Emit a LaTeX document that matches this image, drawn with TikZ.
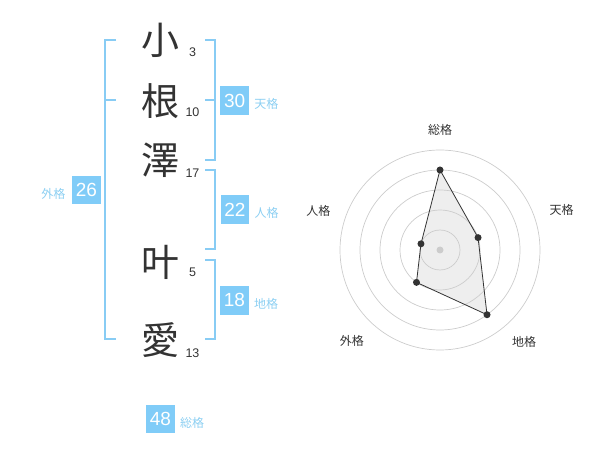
\documentclass[tikz,border=0pt]{standalone}
\usepackage{fontspec}
\setmainfont{Liberation Sans}
\newfontfamily\jpfont{Noto Sans CJK JP}
\usetikzlibrary{positioning}
\definecolor{kbox}{HTML}{80CCF8}
\definecolor{kline}{HTML}{88CCF4}
\definecolor{klabel}{HTML}{8CCFF2}
\definecolor{ink}{HTML}{333333}
\definecolor{ring}{HTML}{CCCCCC}
\definecolor{area}{HTML}{EEEEEE}
\tikzset{
  kanji/.style={font=\jpfont\fontsize{38}{38}\selectfont, text=ink, inner sep=0pt},
  strokes/.style={font=\fontsize{12.5}{12.5}\selectfont, text=ink, inner sep=0pt},
  score/.style={fill=kbox, text=white, minimum size=28.5pt, inner sep=0pt, font=\fontsize{19}{19}\selectfont},
  kaku/.style={font=\jpfont\fontsize{12}{12}\selectfont, text=klabel, inner sep=0pt},
  bracket/.style={draw=kline, line width=2pt},
  axislabel/.style={font=\jpfont\fontsize{12}{12}\selectfont, text=ink, inner sep=0pt},
  dot/.style={circle, fill=ink, minimum size=7pt, inner sep=0pt}
}
\begin{document}
\begin{tikzpicture}[x=1pt, y=-1pt]
  \useasboundingbox (0,0) rectangle (600,470);
  % name
  \node[kanji] (k1) at (160,40) {小};
  \node[kanji] (k2) at (160,101.5) {根};
  \node[kanji] (k3) at (160,160) {澤};
  \node[kanji] (k4) at (160,262.5) {叶};
  \node[kanji] (k5) at (160,340.5) {愛};
  \node[strokes] (n1) at (192.5,52.3) {3};
  \node[strokes] (n2) at (192.5,112.7) {10};
  \node[strokes] (n3) at (192.5,173.3) {17};
  \node[strokes] (n4) at (192.5,272.3) {5};
  \node[strokes] (n5) at (192.5,352.7) {13};
  % brackets
  \draw[bracket] (116,40) -- (105,40) -- (105,339) -- (116,339);
  \draw[bracket] (105,100) -- (116,100);
  \draw[bracket] (205,40) -- (214.5,40) -- (214.5,160) -- (205,160);
  \draw[bracket] (214.5,100) -- (205,100);
  \draw[bracket] (205,170.5) -- (214.5,170.5) -- (214.5,249.3) -- (205,249.3);
  \draw[bracket] (205,260) -- (214.5,260) -- (214.5,339) -- (205,339);
  % scores
  \node[score] (ten) at (234.7,100.5) {30};
  \node[kaku, right=5pt of ten, yshift=-3.5pt] (tenl) {天格};
  \node[score] (jin) at (235,209.5) {22};
  \node[kaku, right=5pt of jin, yshift=-3.5pt] (jinl) {人格};
  \node[score] (chi) at (234.5,300.3) {18};
  \node[kaku, right=5pt of chi, yshift=-3.5pt] (chil) {地格};
  \node[score] (gai) at (86.5,190) {26};
  \node[kaku, left=6.5pt of gai, yshift=-3.5pt] (gail) {外格};
  \node[score] (sou) at (160.5,419) {48};
  \node[kaku, right=5pt of sou, yshift=-3.5pt] (soul) {総格};
  % radar
  \begin{scope}[shift={(440,250)}, yscale=-1]
    \coordinate (c) at (0,0);
    \coordinate (r1) at (90:80);
    \coordinate (r2) at (18:40);
    \coordinate (r3) at (-54:80);
    \coordinate (r4) at (-126:40);
    \coordinate (r5) at (162:20);
    \fill[area] (r1) -- (r2) -- (r3) -- (r4) -- (r5) -- cycle;
    \foreach \r in {20,40,...,100}
      \draw[ring, line width=0.7pt] (c) circle (\r);
    \fill[ring] (c) circle (3.5);
    \draw[ink, line width=0.8pt] (r1) -- (r2) -- (r3) -- (r4) -- (r5) -- cycle;
    \foreach \p in {r1,r2,r3,r4,r5}
      \node[dot] at (\p) {};
    \node[axislabel] (a1) at (90:120) {総格};
    \node[axislabel] (a2) at (18:128) {天格};
    \node[axislabel] (a3) at (-47.5:124.5) {地格};
    \node[axislabel] (a4) at (-134:127) {外格};
    \node[axislabel] (a5) at (162:128) {人格};
  \end{scope}
\end{tikzpicture}
\end{document}
